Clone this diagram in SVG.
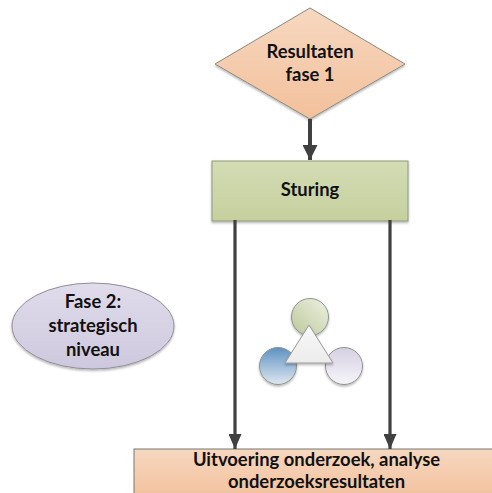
<svg xmlns="http://www.w3.org/2000/svg" width="492" height="493" viewBox="0 0 492 493">
<style>
text{font-family:Lato,"Liberation Sans",sans-serif;font-weight:700;font-size:18.4px;fill:#111;text-anchor:middle}
.conn{fill:none;stroke:#404040}
.c{stroke:#8f958d;stroke-width:1}
</style>
<defs>
<linearGradient id="peach" x1="0" y1="0" x2="0" y2="1"><stop offset="0" stop-color="#f6d8c0"/><stop offset="1" stop-color="#f3c09b"/></linearGradient>
<linearGradient id="green" x1="0" y1="0" x2="0" y2="1"><stop offset="0" stop-color="#d3dcb4"/><stop offset="1" stop-color="#c6d09e"/></linearGradient>
<linearGradient id="lilac" x1="0" y1="0" x2="0" y2="1"><stop offset="0" stop-color="#e0dcea"/><stop offset="1" stop-color="#cec8de"/></linearGradient>
<linearGradient id="cg" x1="1" y1="0" x2="0" y2="1"><stop offset="0" stop-color="#eef1e2"/><stop offset="1" stop-color="#bcc89a"/></linearGradient>
<linearGradient id="cb" x1="0" y1="0" x2="0" y2="1"><stop offset="0" stop-color="#5d92c2"/><stop offset="1" stop-color="#dfe7f0"/></linearGradient>
<linearGradient id="cl" x1="0" y1="0" x2="0" y2="1"><stop offset="0" stop-color="#d5d0e2"/><stop offset="1" stop-color="#f6f5fa"/></linearGradient>
<linearGradient id="tri" x1="0" y1="0" x2="0" y2="1"><stop offset="0" stop-color="#f8f8f8"/><stop offset="1" stop-color="#ececec"/></linearGradient>
<filter id="sh" x="-10%" y="-10%" width="120%" height="125%"><feDropShadow dx="0" dy="1.5" stdDeviation="1.2" flood-color="#000" flood-opacity=".3"/></filter>
<marker id="a" markerUnits="userSpaceOnUse" markerWidth="15" markerHeight="15" refX="15" refY="7.5" orient="auto" viewBox="0 0 15 15"><path d="M0 0L15 7.5L0 15z" fill="#404040"/></marker>
<marker id="b" markerUnits="userSpaceOnUse" markerWidth="15" markerHeight="13" refX="15" refY="6.5" orient="auto" viewBox="0 0 15 13"><path d="M0 0L15 6.5L0 13z" fill="#404040"/></marker>
</defs>
<g id="resultaten">
<path d="M310 8L405 64L310 119L215 64z" fill="url(#peach)" stroke="#8b8b80" filter="url(#sh)"/>
<text x="310" y="58">Resultaten</text><text x="310" y="81">fase 1</text>
</g>
<g id="sturing">
<rect x="212" y="161" width="196" height="60" fill="url(#green)" stroke="#8f9a78" filter="url(#sh)"/>
<text x="310" y="196">Sturing</text>
</g>
<g id="fase2">
<ellipse cx="93" cy="326" rx="81" ry="43" fill="url(#lilac)" stroke="#8f8f98" filter="url(#sh)"/>
<text x="93" y="308">Fase 2:</text><text x="93" y="332">strategisch</text><text x="93" y="356">niveau</text>
</g>
<g id="cycle">
<circle class="c" cx="310" cy="317" r="18.5" fill="url(#cg)" filter="url(#sh)"/>
<circle class="c" cx="278" cy="366" r="18.5" fill="url(#cb)" filter="url(#sh)"/>
<circle class="c" cx="344" cy="366" r="18.5" fill="url(#cl)" filter="url(#sh)"/>
<path d="M309 325L333 363H285z" fill="url(#tri)" stroke="#9a9a9a" filter="url(#sh)"/>
</g>
<g id="uitvoering">
<rect x="134" y="449" width="362" height="50" fill="url(#peach)" stroke="#77776f"/>
<text x="316.5" y="466">Uitvoering onderzoek, analyse</text><text x="316.5" y="488">onderzoeksresultaten</text>
</g>
<g id="connectors">
<path class="conn" stroke-width="4" d="M310 119V160" marker-end="url(#a)"/>
<path class="conn" stroke-width="3.2" d="M235 220V449" marker-end="url(#b)"/>
<path class="conn" stroke-width="3.2" d="M390 220V449" marker-end="url(#b)"/>
</g>
</svg>
